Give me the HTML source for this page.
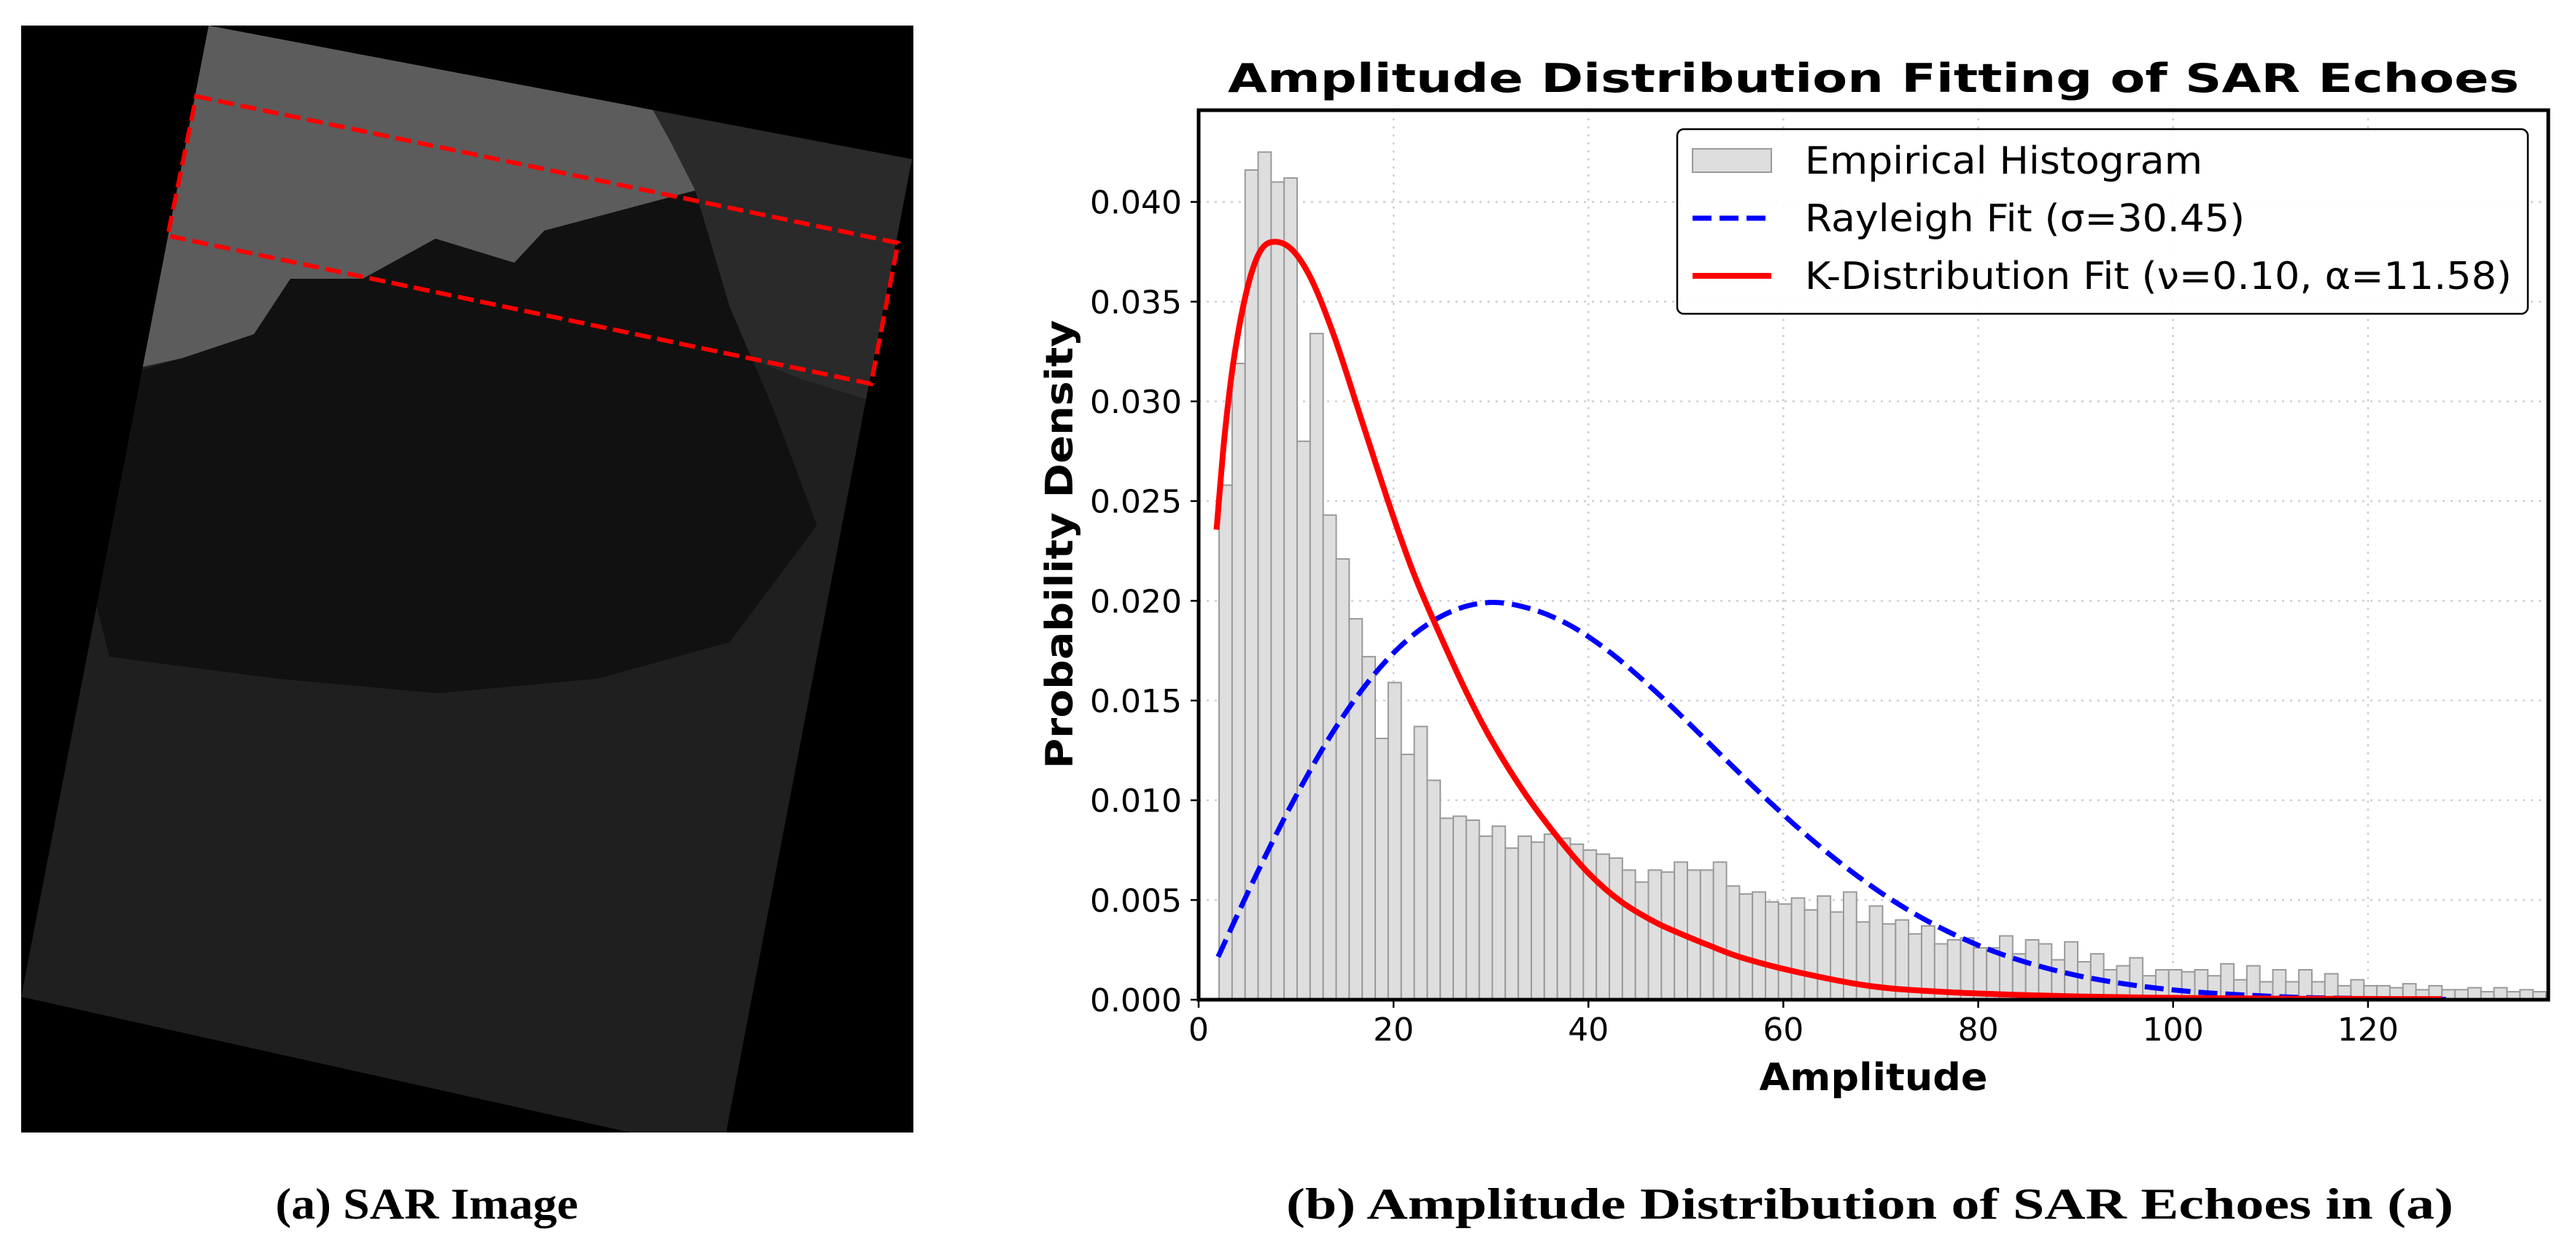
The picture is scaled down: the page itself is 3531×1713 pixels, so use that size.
<!DOCTYPE html>
<html><head><meta charset="utf-8"><style>
html,body{margin:0;padding:0;background:#fff;}
svg{display:block;}
</style></head><body>
<svg id="fig" width="3531" height="1713" viewBox="0 0 3531 1713" xmlns="http://www.w3.org/2000/svg">
<rect x="0" y="0" width="3531" height="1713" fill="#fff"/>
<g>
  <rect x="29" y="35" width="1223" height="1517" fill="#000"/>
  <clipPath id="clipR"><rect x="29" y="35" width="1223" height="1517"/></clipPath>
  <clipPath id="clipA"><polygon points="286,35 1250,218 990,1580 29,1366"/></clipPath>
  <g clip-path="url(#clipR)">
  <g clip-path="url(#clipA)">
    <polygon points="286,35 1250,218 990,1580 29,1366" fill="#1f1f1f"/>
    <polygon points="895,151 1250,218 1230,560 1100,520 1000,480 960,300" fill="#2a2a2a"/>
    <polygon points="150,520 249,491 348,458 398,382 497,382 597,327 705,360 746,316 829,294 953,261 1000,420 1060,560 1120,720 1000,880 820,930 600,950 380,930 150,900 100,700" fill="#111111"/>
    <polygon points="250,20 895,151 920,196 953,261 829,294 746,316 705,360 597,327 497,382 398,382 348,458 249,491 199,502 150,510" fill="#5c5c5c"/>
  </g>
  </g>
  <polygon points="269,132 1231,333 1194,526 230,323" fill="none" stroke="#ff0000" stroke-width="6" stroke-dasharray="22 9"/>
  <text x="585" y="1670" font-family="Liberation Serif, serif" font-weight="bold" font-size="60" text-anchor="middle" textLength="415" lengthAdjust="spacingAndGlyphs">(a) SAR Image</text>
</g>
<g id="chart"></g>
<text x="2563" y="1670" font-family="Liberation Serif, serif" font-weight="bold" font-size="60" text-anchor="middle" textLength="1600" lengthAdjust="spacingAndGlyphs">(b) Amplitude Distribution of SAR Echoes in (a)</text>
</svg>
<script>
const histStart = 2.1;
const binWidth = 1.335;
const histValues = [0.0258,0.0319,0.0416,0.0425,0.0410,0.0412,0.0280,0.0334,0.0243,0.0221,0.0191,0.0172,0.0131,0.0159,0.0123,0.0137,0.0110,0.0091,0.0092,0.0090,0.0082,0.0087,0.0076,0.0082,0.0079,0.0083,0.0081,0.0078,0.0075,0.0073,0.0071,0.0065,0.0059,0.0065,0.0064,0.0069,0.0065,0.0065,0.0069,0.0057,0.0053,0.0054,0.0049,0.0048,0.0051,0.0045,0.0052,0.0044,0.0054,0.0039,0.0047,0.0038,0.0040,0.0033,0.0037,0.0028,0.0030,0.0031,0.0026,0.0026,0.0032,0.0023,0.0030,0.0028,0.0020,0.0029,0.0019,0.0023,0.0015,0.0017,0.0021,0.0012,0.0015,0.0015,0.0014,0.0015,0.0012,0.0018,0.0010,0.0017,0.0009,0.0015,0.0009,0.0015,0.0009,0.0013,0.0007,0.0010,0.0007,0.0007,0.0006,0.0008,0.0005,0.0007,0.0005,0.0005,0.0006,0.0004,0.0006,0.0004,0.0005,0.0004,0.0003];
const rayleighX = [2,6,10,14,18,22,26,30,34,38,42,46,50,54,58,62,66,70,74,78,82,86,90,94,98,102,106,110,114,118,122,126,128];
const rayleighY = [0.00215,0.00635,0.01022,0.01359,0.01630,0.01828,0.01948,0.01992,0.01961,0.01880,0.01750,0.01585,0.01401,0.01208,0.01019,0.00841,0.00680,0.00537,0.00416,0.00316,0.00235,0.00172,0.00123,0.00087,0.00060,0.00040,0.00027,0.00017,0.00010,0.00007,0.00004,0.00002,0.00002];
const kX = [1.84,2.67,3.67,5.01,6.35,7.85,9.69,11.69,14.03,16.7,19.71,22.05,24.4,27.4,30.07,33.4,36.75,40.1,43.4,46.8,49.5,52.5,55.8,61.3,68.7,76.1,87.1,98.2,112,127.6];
const kY = [0.02357,0.0283,0.0323,0.0357,0.03755,0.0380,0.03755,0.0360,0.0331,0.0291,0.0246,0.0214,0.0187,0.0155,0.0130,0.0104,0.0082,0.0063,0.0049,0.0039,0.0033,0.0027,0.0021,0.0014,0.0007,0.0004,0.0002,0.0001,0.00005,0.00003];
const xTicks = [0,20,40,60,80,100,120];
const yTicks = [0,0.005,0.010,0.015,0.020,0.025,0.030,0.035,0.040];
const yTickLabels = ["0.000","0.005","0.010","0.015","0.020","0.025","0.030","0.035","0.040"];

const NS = "http://www.w3.org/2000/svg";
const L = 1643, R = 3493, T = 151, B = 1370, XMAX = 138.5, YMAX = 0.0446;
function X(v){ return L + v/XMAX*(R-L); }
function Y(v){ return B - v/YMAX*(B-T); }
const chart = document.getElementById('chart');
function mk(tag, attrs, parent){
  const e = document.createElementNS(NS, tag);
  for (const k in attrs) e.setAttribute(k, attrs[k]);
  (parent||chart).appendChild(e);
  return e;
}
const clip = mk('clipPath', {id:'plotClip'});
mk('rect', {x:L, y:T, width:R-L, height:B-T}, clip);

const grid = mk('g', {});


xTicks.forEach(t => {
  const l = mk('line', {x1:X(t), x2:X(t), y1:T, y2:B, stroke:'#cfcfcf', 'stroke-width':2.5, 'stroke-dasharray':'3 8'}, grid);
  
  
});
yTicks.forEach(t => {
  const l = mk('line', {x1:L, x2:R, y1:Y(t), y2:Y(t), stroke:'#cfcfcf', 'stroke-width':2.5, 'stroke-dasharray':'3 8'}, grid);
  
  
});

const hg = mk('g', {'clip-path':'url(#plotClip)'});


histValues.forEach((v, i) => {
  const x0 = histStart + i*binWidth;
  const r = mk('rect', {x:X(x0), y:Y(v), width:X(x0+binWidth)-X(x0), height:Y(0)-Y(v), fill:'#dedede', stroke:'#9a9a9a', 'stroke-width':2}, hg);
  
  
});

function smoothPath(xs, ys){
  const p = xs.map((x,i)=>[X(x), Y(ys[i])]);
  let d = 'M' + p[0][0] + ',' + p[0][1];
  for (let i=0;i<p.length-1;i++){
    const p0 = p[i-1]||p[i], p1 = p[i], p2 = p[i+1], p3 = p[i+2]||p[i+1];
    const c1 = [p1[0]+(p2[0]-p0[0])/6, p1[1]+(p2[1]-p0[1])/6];
    const c2 = [p2[0]-(p3[0]-p1[0])/6, p2[1]-(p3[1]-p1[1])/6];
    d += ' C'+c1[0]+','+c1[1]+' '+c2[0]+','+c2[1]+' '+p2[0]+','+p2[1];
  }
  return d;
}
const ray = mk('path', {d:smoothPath(rayleighX, rayleighY), fill:'none', stroke:'#0000ff', 'stroke-width':7, 'stroke-dasharray':'26 11', 'clip-path':'url(#plotClip)'});


const kd = mk('path', {d:smoothPath(kX, kY), fill:'none', stroke:'#ff0000', 'stroke-width':8, 'clip-path':'url(#plotClip)'});



const frame = mk('rect', {x:L, y:T, width:R-L, height:B-T, fill:'none', stroke:'#000', 'stroke-width':5});



xTicks.forEach(t => {
  const tk = mk('line', {x1:X(t), x2:X(t), y1:B, y2:B+11, stroke:'#000', 'stroke-width':2.5});
  
  
  const tx = mk('text', {x:X(t), y:1426, 'font-family':'DejaVu Sans, Liberation Sans, sans-serif', 'font-size':44, 'text-anchor':'middle'});
  tx.textContent = String(t);
  
  
});
yTicks.forEach((t, i) => {
  const tk = mk('line', {x1:L-11, x2:L, y1:Y(t), y2:Y(t), stroke:'#000', 'stroke-width':2.5});
  
  
  const tx = mk('text', {x:1620, y:Y(t)+16, 'font-family':'DejaVu Sans, Liberation Sans, sans-serif', 'font-size':44, 'text-anchor':'end'});
  tx.textContent = yTickLabels[i];
  
  
});

const title = mk('text', {x:(L+R)/2, y:126, 'font-family':'DejaVu Sans, Liberation Sans, sans-serif', 'font-weight':'bold', 'font-size':54, 'text-anchor':'middle', textLength:1770, lengthAdjust:'spacingAndGlyphs'});
title.textContent = 'Amplitude Distribution Fitting of SAR Echoes';


const xt = mk('text', {x:2568, y:1494, 'font-family':'DejaVu Sans, Liberation Sans, sans-serif', 'font-weight':'bold', 'font-size':52, 'text-anchor':'middle', textLength:313, lengthAdjust:'spacingAndGlyphs'});
xt.textContent = 'Amplitude';


const yt = mk('text', {x:0, y:0, transform:'translate(1470,746) rotate(-90)', 'font-family':'DejaVu Sans, Liberation Sans, sans-serif', 'font-weight':'bold', 'font-size':52, 'text-anchor':'middle', textLength:615, lengthAdjust:'spacingAndGlyphs'});
yt.textContent = 'Probability Density';



const lg = mk('g', {});


mk('rect', {x:2299, y:177, width:1166, height:253, rx:9, fill:'#fff', 'fill-opacity':0.9, stroke:'#000', 'stroke-width':2.5}, lg);
const e1 = mk('rect', {x:2320, y:204, width:108, height:32, fill:'#dedede', stroke:'#9a9a9a', 'stroke-width':2}, lg);


const e2 = mk('line', {x1:2320, x2:2428, y1:299, y2:299, stroke:'#0000ff', 'stroke-width':7, 'stroke-dasharray':'26 11'}, lg);


const e3 = mk('line', {x1:2320, x2:2428, y1:378, y2:378, stroke:'#ff0000', 'stroke-width':8}, lg);


const labels = [['Empirical Histogram',238,545],['Rayleigh Fit (σ=30.45)',317,603],['K-Distribution Fit (ν=0.10, α=11.58)',396,969]];
labels.forEach(a => {
  const t = mk('text', {x:2474, y:a[1], 'font-family':'DejaVu Sans, Liberation Sans, sans-serif', 'font-size':52, textLength:a[2], lengthAdjust:'spacingAndGlyphs'}, lg);
  t.textContent = a[0];
  
  
});
</script>
</body></html>
